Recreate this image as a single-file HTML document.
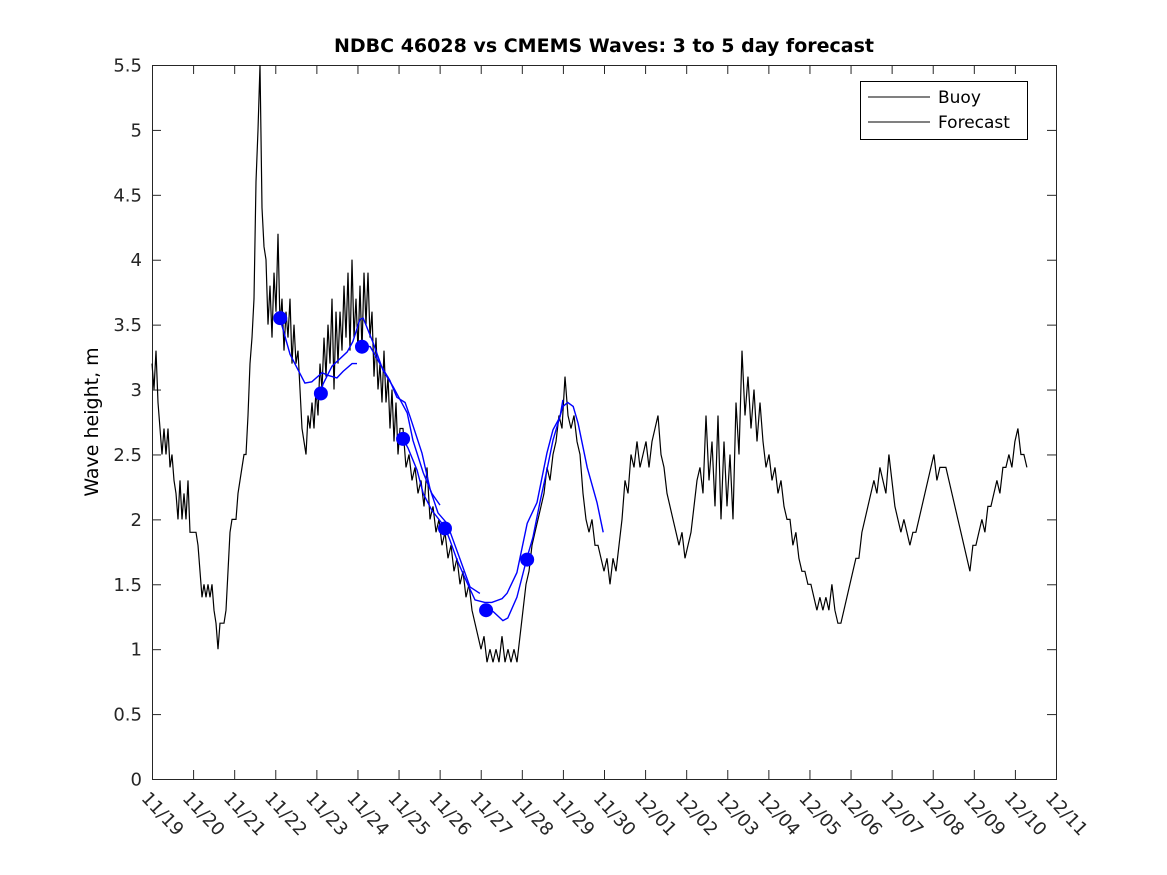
<!DOCTYPE html>
<html><head><meta charset="utf-8"><style>
body{margin:0;background:#fff;}
svg{display:block;font-family:"DejaVu Sans","Liberation Sans",sans-serif;}
</style></head><body>
<svg id="chart" width="1167" height="875" viewBox="0 0 1167 875" xmlns="http://www.w3.org/2000/svg">
<rect width="1167" height="875" fill="#fff"/>
<text x="604" y="52" text-anchor="middle" font-size="19" font-weight="bold">NDBC 46028 vs CMEMS Waves: 3 to 5 day forecast</text>
<text transform="translate(98,422) rotate(-90)" text-anchor="middle" font-size="19">Wave height, m</text>
<g id="plot"></g>
<g>
<rect x="860.5" y="81.5" width="167" height="58" fill="#fff" stroke="#000" stroke-width="1"/>
<line x1="868" y1="97" x2="930" y2="97" stroke="#000" stroke-width="1"/>
<text x="938" y="103" font-size="17">Buoy</text>
<line x1="868" y1="122" x2="930" y2="122" stroke="#000" stroke-width="1"/>
<text x="938" y="128" font-size="17">Forecast</text>
</g>
</svg>
<script>
const xTickLabels = ["11/19","11/20","11/21","11/22","11/23","11/24","11/25","11/26","11/27","11/28","11/29","11/30","12/01","12/02","12/03","12/04","12/05","12/06","12/07","12/08","12/09","12/10","12/11"];
const yTickLabels = ["0","0.5","1","1.5","2","2.5","3","3.5","4","4.5","5","5.5"];
const yTickValues = [0,0.5,1,1.5,2,2.5,3,3.5,4,4.5,5,5.5];
const buoyAStartHour = 0;
const buoyAStepHour = 1.168;
const buoyA = [3.2,3.0,3.3,2.9,2.7,2.5,2.7,2.5,2.7,2.4,2.5,2.3,2.2,2.0,2.3,2.0,2.2,2.0,2.3,1.9,1.9,1.9,1.9,1.8,1.6,1.4,1.5,1.4,1.5,1.4,1.5,1.3,1.2,1.0,1.2,1.2,1.2,1.3,1.6,1.9,2.0,2.0,2.0,2.2,2.3,2.4,2.5,2.5,2.8,3.2,3.4,3.7,4.6,5.0,5.5,4.4,4.1,4.0,3.5,3.8,3.4,3.9,3.6,4.2,3.5,3.7,3.3,3.6,3.4,3.7,3.2,3.5,3.2,3.3,3.0,2.7,2.6,2.5,2.8,2.7,2.9,2.7,3.0,2.8,3.2,3.0,3.4,3.1,3.5,3.2,3.7,3.0,3.6,3.2,3.6,3.3,3.8,3.4,3.9,3.3,4.0,3.4,3.7,3.3,3.8,3.3,3.9,3.5,3.9,3.4,3.6,3.1,3.4,3.0,3.2,2.9,3.3,2.9,3.1,2.7,3.0,2.6,2.9,2.5,2.7];
const buoyBStartHour = 146.6;
const buoyBStepHour = 1.752;
const buoyB = [2.7,2.4,2.5,2.3,2.4,2.2,2.3,2.1,2.4,2.0,2.1,1.9,2.0,1.8,1.9,1.7,1.8,1.6,1.7,1.5,1.6,1.4,1.5,1.3,1.2,1.1,1.0,1.1,0.9,1.0,0.9,1.0,0.9,1.1,0.9,1.0,0.9,1.0,0.9,1.1,1.3,1.5,1.6,1.8,1.9,2.0,2.1,2.2,2.4,2.3,2.5,2.6,2.8,2.7,3.1,2.8,2.7,2.8,2.6,2.5,2.2,2.0,1.9,2.0,1.8,1.8,1.7,1.6,1.7,1.5,1.7,1.6,1.8,2.0,2.3,2.2,2.5,2.4,2.6,2.4,2.5,2.6,2.4,2.6,2.7,2.8,2.5,2.4,2.2,2.1,2.0,1.9,1.8,1.9,1.7,1.8,1.9,2.1,2.3,2.4,2.2,2.8,2.3,2.6,2.1,2.8,2.0,2.6,2.1,2.5,2.0,2.9,2.5,3.3,2.8,3.1,2.7,3.0,2.6,2.9,2.6,2.4,2.5,2.3,2.4,2.2,2.3,2.1,2.0,2.0,1.8,1.9,1.7,1.6,1.6,1.5,1.5,1.4,1.3,1.4,1.3,1.4,1.3,1.5,1.3,1.2,1.2,1.3,1.4,1.5,1.6,1.7,1.7,1.9,2.0,2.1,2.2,2.3,2.2,2.4,2.3,2.2,2.5,2.3,2.1,2.0,1.9,2.0,1.9,1.8,1.9,1.9,2.0,2.1,2.2,2.3,2.4,2.5,2.3,2.4,2.4,2.4,2.3,2.2,2.1,2.0,1.9,1.8,1.7,1.6,1.8,1.8,1.9,2.0,1.9,2.1,2.1,2.2,2.3,2.2,2.4,2.4,2.5,2.4,2.6,2.7,2.5,2.5,2.4];
const fc1Days = [3.12,3.36,3.72,3.89,4.14,4.28,4.50,4.65,4.87,4.99];
const fc1Vals = [3.54,3.27,3.05,3.06,3.13,3.11,3.09,3.14,3.20,3.20];
const fc2Days = [4.11,4.16,4.38,4.75,4.89,5.06,5.14,5.38,5.62,5.87,6.04,6.21,6.35,6.60,6.81,7.01];
const fc2Vals = [2.97,3.04,3.18,3.29,3.37,3.54,3.55,3.36,3.15,3.02,2.92,2.82,2.61,2.36,2.20,2.11];
const fc3Days = [5.11,5.31,5.60,5.79,5.96,6.16,6.28,6.57,6.77,6.96,7.18,7.50,7.74,7.98];
const fc3Vals = [3.34,3.33,3.17,3.07,2.94,2.90,2.79,2.51,2.23,2.05,1.97,1.69,1.48,1.43];
const fc4Days = [6.11,6.23,6.45,6.60,6.81,7.13,7.25,7.42,7.67,7.86,8.10,8.27,8.52,8.64,8.88,9.13,9.37,9.61,9.76,9.93,10.0];
const fc4Vals = [2.62,2.55,2.38,2.20,2.07,1.94,1.84,1.69,1.51,1.38,1.36,1.36,1.39,1.43,1.59,1.97,2.13,2.51,2.69,2.79,2.92];
const fc5Days = [8.13,8.30,8.54,8.66,8.88,9.13,9.27,9.44,9.61,9.76,10.0,10.12,10.25,10.37,10.59,10.83,10.98];
const fc5Vals = [1.30,1.29,1.22,1.24,1.40,1.71,1.86,2.13,2.38,2.61,2.87,2.90,2.87,2.74,2.40,2.13,1.90];
const dotDays = [3.12,4.11,5.11,6.11,7.13,8.13,9.13];
const dotVals = [3.55,2.97,3.33,2.62,1.93,1.30,1.69];

const L=152,R=1056,T=65,B=779, NDAYS=22, YMAX=5.5;
const xs = d => L + d/NDAYS*(R-L);
const ys = v => B - v/YMAX*(B-T);
const NS="http://www.w3.org/2000/svg";
const plot=document.getElementById('plot');
function mk(tag,attrs,parent){const e=document.createElementNS(NS,tag);for(const k in attrs)e.setAttribute(k,attrs[k]);(parent||plot).appendChild(e);return e;}

const box=mk('rect',{x:L+0.5,y:T+0.5,width:R-L,height:B-T,fill:'none',stroke:'#262626','stroke-width':1});


yTickValues.forEach((v,i)=>{
  const y=ys(v)+0.5;
  const t1=mk('line',{x1:L,y1:y,x2:L+9,y2:y,stroke:'#262626'});
  
  
  const t2=mk('line',{x1:R-9,y1:y,x2:R,y2:y,stroke:'#262626'});
  
  
  const tx=mk('text',{x:L-10,y:y+6,'text-anchor':'end','font-size':18,fill:'#262626'});
  tx.textContent=yTickLabels[i];
  
  
});
xTickLabels.forEach((lab,i)=>{
  const x=xs(i)+0.5;
  const t1=mk('line',{x1:x,y1:B,x2:x,y2:B-9,stroke:'#262626'});
  
  
  const t2=mk('line',{x1:x,y1:T,x2:x,y2:T+9,stroke:'#262626'});
  
  
  const tx=mk('text',{transform:`translate(${x-12},${B+20}) rotate(47)`,'font-size':18,fill:'#262626'});
  tx.textContent=lab;
  
  
});
let pts=[];
buoyA.forEach((v,i)=>pts.push(xs((buoyAStartHour+i*buoyAStepHour)/24).toFixed(1)+','+ys(v).toFixed(1)));
buoyB.forEach((v,i)=>pts.push(xs((buoyBStartHour+i*buoyBStepHour)/24).toFixed(1)+','+ys(v).toFixed(1)));
const bl=mk('polyline',{points:pts.join(' '),fill:'none',stroke:'#000','stroke-width':1.2,'stroke-linejoin':'miter'});


[[fc1Days,fc1Vals],[fc2Days,fc2Vals],[fc3Days,fc3Vals],[fc4Days,fc4Vals],[fc5Days,fc5Vals]].forEach(([ds,vs],k)=>{
  const p=ds.map((d,i)=>xs(d).toFixed(1)+','+ys(vs[i]).toFixed(1)).join(' ');
  const f=mk('polyline',{points:p,fill:'none',stroke:'#0000ff','stroke-width':1.4});
  
  
});
dotDays.forEach((d,i)=>{
  const c=mk('circle',{cx:xs(d),cy:ys(dotVals[i]),r:7,fill:'#0000ff'});
  
  
});
</script>
</body></html>
